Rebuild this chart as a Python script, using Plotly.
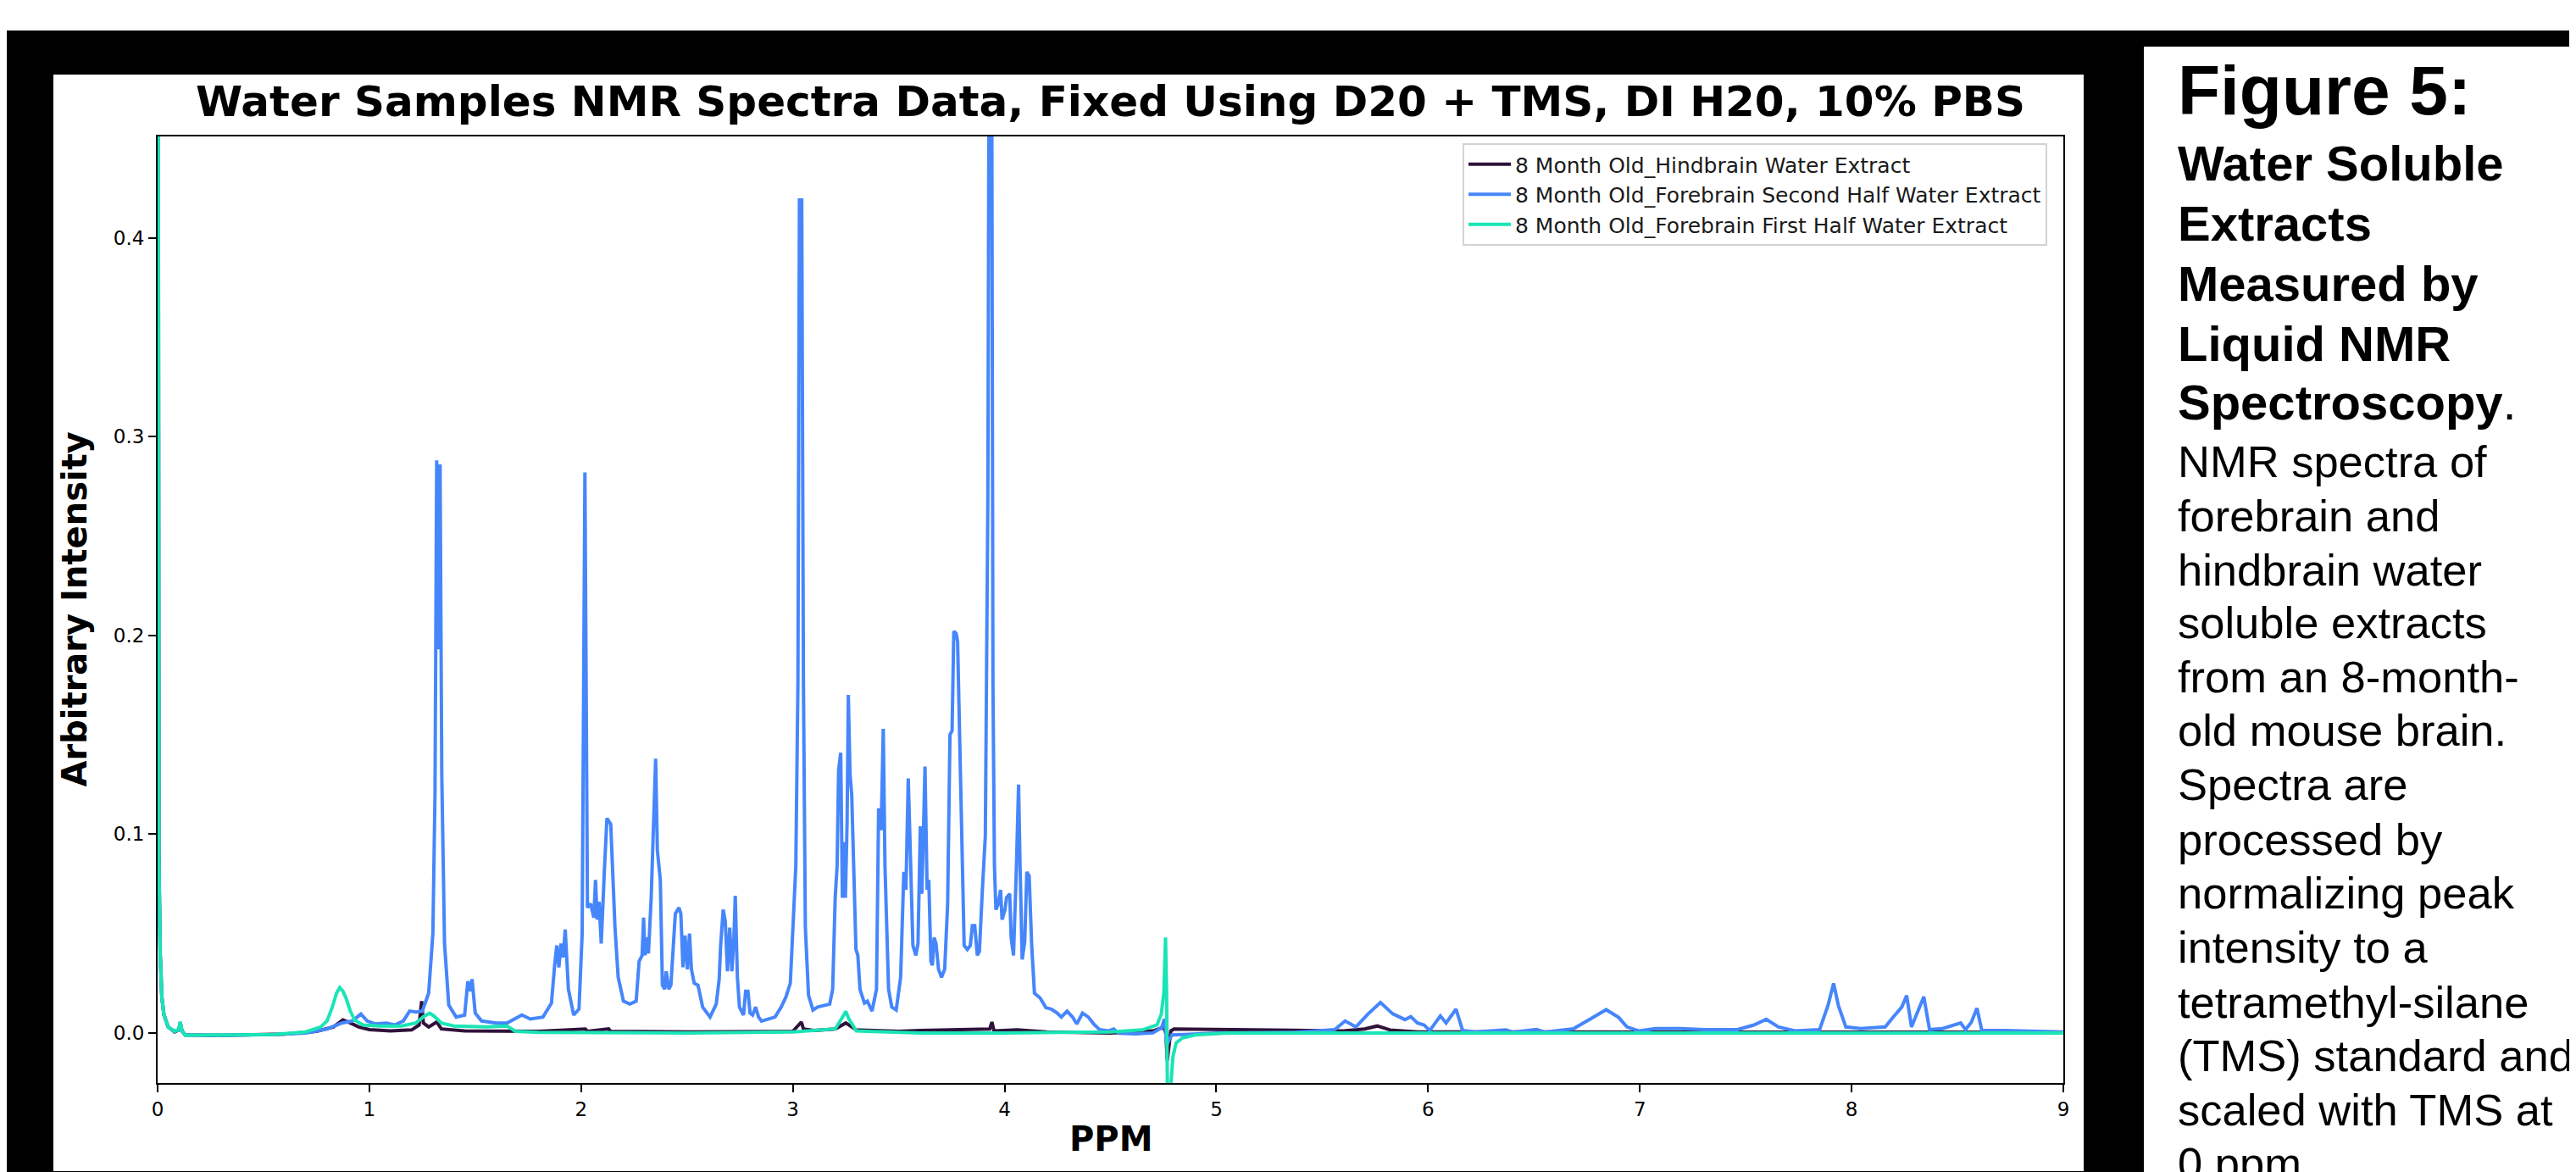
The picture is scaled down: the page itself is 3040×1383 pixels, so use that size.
import plotly.graph_objects as go

# ---------------- data ----------------
SERIES_NAMES = [
    "8 Month Old_Hindbrain Water Extract",
    "8 Month Old_Forebrain Second Half Water Extract",
    "8 Month Old_Forebrain First Half Water Extract",
]
SERIES_COLORS = ["#30123b", "#4686fb", "#1ae4b6"]

HB_PPM = [0.0, 0.003, 0.006, 0.012, 0.02, 0.03, 0.05, 0.08, 0.1, 0.107, 0.115, 0.13, 0.3, 0.6,
          0.75, 0.83, 0.875, 0.91, 0.95, 1.0, 1.1, 1.2, 1.235, 1.247, 1.255, 1.28, 1.318, 1.34,
          1.45, 1.8, 2.02, 2.03, 2.13, 2.14, 2.5, 3.0, 3.03, 3.04, 3.05, 3.1, 3.2, 3.25, 3.3,
          3.5, 3.6, 3.93, 3.94, 3.95, 4.06, 4.2, 4.5, 4.7, 4.75, 4.762, 4.768, 4.775, 4.785,
          4.8, 5.2, 5.6, 5.7, 5.76, 5.82, 5.95, 6.5, 9.0]
HB_INT = [1.0, 0.25, 0.09, 0.04, 0.018, 0.009, 0.003, 0.0005, 0.0015, 0.005, 0.001, -0.001, -0.0012, -0.0006,
          0.0008, 0.003, 0.0065, 0.005, 0.003, 0.0017, 0.001, 0.0015, 0.004, 0.016, 0.005, 0.003, 0.0055, 0.002,
          0.001, 0.0008, 0.002, 0.0008, 0.002, 0.0008, 0.0005, 0.0008, 0.004, 0.0055, 0.002, 0.0012, 0.002, 0.005, 0.0015,
          0.0008, 0.0012, 0.002, 0.0055, 0.001, 0.0015, 0.0005, 0.0, 0.001, 0.0028, 0.0, -0.014, -0.006, 0.001,
          0.002, 0.0015, 0.001, 0.002, 0.0035, 0.0015, 0.0005, 0.0005, 0.0003]

FS_PPM = [0.0, 0.003, 0.006, 0.012, 0.02, 0.03, 0.05, 0.08, 0.1, 0.107, 0.115, 0.13, 0.3, 0.55, 0.7,
          0.8, 0.87, 0.92, 0.96, 0.99, 1.03, 1.08, 1.12, 1.16, 1.19, 1.22, 1.25, 1.28, 1.3, 1.31,
          1.318, 1.326, 1.334, 1.342, 1.355, 1.375, 1.41, 1.45, 1.465, 1.475, 1.485, 1.5, 1.53,
          1.6, 1.65, 1.72, 1.76, 1.82, 1.86, 1.875, 1.885, 1.895, 1.905, 1.915, 1.925, 1.94,
          1.965, 1.99, 2.005, 2.018, 2.03, 2.045, 2.06, 2.068, 2.076, 2.085, 2.095, 2.11, 2.122,
          2.14, 2.16, 2.175, 2.2, 2.23, 2.26, 2.274, 2.288, 2.295, 2.302, 2.309, 2.318, 2.331,
          2.341, 2.352, 2.36, 2.374, 2.384, 2.395, 2.402, 2.414, 2.424, 2.435, 2.445, 2.462,
          2.471, 2.481, 2.491, 2.502, 2.512, 2.521, 2.534, 2.552, 2.574, 2.609, 2.638, 2.652,
          2.659, 2.671, 2.681, 2.691, 2.702, 2.712, 2.721, 2.728, 2.738, 2.748, 2.767, 2.777,
          2.788, 2.798, 2.81, 2.824, 2.838, 2.852, 2.888, 2.916, 2.945, 2.967, 2.988, 3.002,
          3.014, 3.024, 3.031, 3.042, 3.05, 3.059, 3.074, 3.095, 3.117, 3.174, 3.188, 3.2,
          3.209, 3.216, 3.226, 3.234, 3.242, 3.248, 3.256, 3.262, 3.27, 3.278, 3.288, 3.298,
          3.307, 3.317, 3.338, 3.352, 3.374, 3.395, 3.405, 3.417, 3.427, 3.435, 3.452, 3.467,
          3.488, 3.509, 3.524, 3.534, 3.545, 3.557, 3.567, 3.581, 3.591, 3.602, 3.609, 3.617,
          3.624, 3.634, 3.642, 3.652, 3.659, 3.667, 3.676, 3.688, 3.702, 3.717, 3.731, 3.742,
          3.752, 3.76, 3.771, 3.778, 3.788, 3.799, 3.809, 3.824, 3.838, 3.848, 3.859, 3.871,
          3.881, 3.895, 3.909, 3.921, 3.928, 3.938, 3.945, 3.952, 3.959, 3.97, 3.981, 3.988,
          4.002, 4.009, 4.024, 4.031, 4.042, 4.056, 4.066, 4.073, 4.083, 4.095, 4.105, 4.116,
          4.128, 4.141, 4.168, 4.195, 4.221, 4.248, 4.268, 4.295, 4.321, 4.341, 4.368, 4.395,
          4.421, 4.448, 4.49, 4.515, 4.541, 4.62, 4.7, 4.741, 4.755, 4.765, 4.775, 4.79, 4.85,
          5.0, 5.37, 5.56, 5.608, 5.659, 5.717, 5.775, 5.833, 5.891, 5.918, 5.95, 5.981, 6.008,
          6.058, 6.085, 6.132, 6.163, 6.221, 6.368, 6.4, 6.512, 6.55, 6.686, 6.764, 6.841, 6.9,
          6.939, 6.997, 7.074, 7.19, 7.306, 7.461, 7.539, 7.597, 7.655, 7.733, 7.849, 7.888,
          7.915, 7.938, 7.973, 8.043, 8.159, 8.198, 8.237, 8.26, 8.283, 8.341, 8.368, 8.43,
          8.515, 8.538, 8.565, 8.592, 8.615, 8.72, 9.0]
FS_INT = [1.0, 0.25, 0.09, 0.04, 0.018, 0.009, 0.003, 0.0008, 0.0015, 0.0055, 0.001, -0.001, -0.0012, -0.0008, 0.0,
          0.002, 0.005, 0.006, 0.0095, 0.006, 0.0045, 0.005, 0.004, 0.006, 0.011, 0.0105, 0.011, 0.02, 0.05, 0.12,
          0.288, 0.193, 0.286, 0.13, 0.045, 0.014, 0.008, 0.009, 0.026, 0.021, 0.027, 0.01, 0.006,
          0.005, 0.005, 0.009, 0.007, 0.008, 0.015, 0.034, 0.044, 0.033, 0.045, 0.038, 0.052, 0.022,
          0.009, 0.012, 0.05, 0.282, 0.063, 0.065, 0.058, 0.077, 0.057, 0.066, 0.045, 0.082, 0.108,
          0.105, 0.053, 0.028, 0.016, 0.0145, 0.016, 0.036, 0.039, 0.058, 0.039, 0.048, 0.040, 0.068,
          0.098, 0.138, 0.092, 0.077, 0.024, 0.022, 0.031, 0.022, 0.024, 0.042, 0.060, 0.063,
          0.060, 0.033, 0.049, 0.032, 0.050, 0.032, 0.025, 0.024, 0.013, 0.008, 0.0145, 0.027,
          0.044, 0.062, 0.056, 0.031, 0.053, 0.031, 0.046, 0.069, 0.028, 0.013, 0.009, 0.021,
          0.021, 0.010, 0.009, 0.013, 0.008, 0.006, 0.007, 0.008, 0.013, 0.018, 0.025, 0.056,
          0.084, 0.176, 0.419, 0.419, 0.176, 0.053, 0.019, 0.0115, 0.013, 0.0145, 0.022, 0.068,
          0.084, 0.132, 0.141, 0.068, 0.096, 0.068, 0.105, 0.17, 0.13, 0.12, 0.084, 0.042,
          0.039, 0.022, 0.015, 0.016, 0.011, 0.022, 0.113, 0.102, 0.153, 0.084, 0.022, 0.013,
          0.0115, 0.028, 0.081, 0.072, 0.128, 0.084, 0.044, 0.039, 0.045, 0.104, 0.070, 0.102,
          0.134, 0.072, 0.077, 0.036, 0.034, 0.048, 0.045, 0.032, 0.028, 0.032, 0.065, 0.150,
          0.152, 0.202, 0.201, 0.197, 0.145, 0.084, 0.044, 0.042, 0.044, 0.054, 0.054, 0.039,
          0.041, 0.072, 0.099, 0.27, 0.55, 0.55, 0.176, 0.084, 0.062, 0.065, 0.072, 0.057,
          0.062, 0.068, 0.070, 0.048, 0.039, 0.084, 0.125, 0.084, 0.037, 0.046, 0.081, 0.079,
          0.044, 0.020, 0.0175, 0.0127, 0.012, 0.010, 0.008, 0.011, 0.008, 0.0045, 0.010, 0.008,
          0.0045, 0.0017, 0.001, 0.002, -0.0002, -0.0005, 0.0, 0.0026, 0.007, -0.006, -0.004, -0.001, -0.0008,
          0.0, 0.0003, 0.0017, 0.006, 0.003, 0.0096, 0.0153, 0.0096, 0.0067, 0.0082, 0.005, 0.004, 0.0012,
          0.0086, 0.0050, 0.012, 0.0012, 0.0005, 0.0015, 0.0004, 0.0018, 0.0004, 0.0021, 0.0069, 0.0117, 0.0078,
          0.003, 0.001, 0.0022, 0.0022, 0.0017, 0.0017, 0.004, 0.0069, 0.003, 0.001, 0.0017, 0.0136,
          0.0249, 0.0136, 0.003, 0.0022, 0.003, 0.0082, 0.013, 0.0188, 0.003, 0.0182, 0.0017, 0.0022,
          0.005, 0.0017, 0.0053, 0.0124, 0.0012, 0.0012, 0.0005]

FF_PPM = [0.0, 0.003, 0.006, 0.012, 0.02, 0.03, 0.05, 0.08, 0.1, 0.107, 0.115, 0.13, 0.3, 0.55,
          0.7, 0.77, 0.8, 0.825, 0.845, 0.86, 0.875, 0.89, 0.91, 0.93, 0.97, 1.05, 1.15, 1.22,
          1.26, 1.285, 1.305, 1.34, 1.4, 1.55, 1.65, 1.69, 1.8, 2.5, 3.0, 3.2, 3.235, 3.25,
          3.265, 3.3, 3.6, 4.0, 4.5, 4.65, 4.72, 4.74, 4.752, 4.76, 4.765, 4.769, 4.778, 4.785,
          4.795, 4.81, 4.84, 4.9, 5.05, 9.0]
FF_INT = [1.0, 0.25, 0.09, 0.04, 0.018, 0.009, 0.003, 0.0008, 0.0018, 0.0055, 0.001, -0.0012, -0.0012, -0.0008,
          0.0005, 0.003, 0.006, 0.013, 0.02, 0.0228, 0.021, 0.0175, 0.011, 0.0065, 0.004, 0.0035, 0.0035, 0.005,
          0.0085, 0.0099, 0.0085, 0.005, 0.0035, 0.003, 0.0035, 0.0008, 0.0003, 0.0, 0.0005, 0.002, 0.008, 0.0108,
          0.007, 0.001, 0.0, 0.0, 0.0005, 0.0015, 0.004, 0.0095, 0.02, 0.048, 0.02, -0.03, -0.05, -0.026,
          -0.012, -0.005, -0.0025, -0.001, 0.0, 0.0]

X_TICKS = [0, 1, 2, 3, 4, 5, 6, 7, 8, 9]
Y_TICKS = [0.0, 0.1, 0.2, 0.3, 0.4]
Y_TICK_TEXT = ["0.0", "0.1", "0.2", "0.3", "0.4"]

TITLE = "Water Samples NMR Spectra Data, Fixed Using D20 + TMS, DI H20, 10% PBS"
X_LABEL = "PPM"
Y_LABEL = "Arbitrary Intensity"

CAPTION_HEAD = "Figure 5:"
CAPTION_BOLD = ["Water Soluble", "Extracts", "Measured by", "Liquid NMR", "Spectroscopy"]
CAPTION_BODY = ["NMR spectra of", "forebrain and", "hindbrain water", "soluble extracts",
                "from an 8-month-", "old mouse brain.", "Spectra are", "processed by",
                "normalizing peak", "intensity to a", "tetramethyl-silane",
                "(TMS) standard and", "scaled with TMS at", "0 ppm."]

# ---------------- layout helpers (pixel -> paper) ----------------
W, H = 3040, 1383


def px(x):
    return x / W


def py(y):
    return 1 - y / H


PLOT_L, PLOT_R, PLOT_T, PLOT_B = 178, 2427, 153, 1270

fig = go.Figure()
for i, (xs, ys) in enumerate([(HB_PPM, HB_INT), (FS_PPM, FS_INT), (FF_PPM, FF_INT)]):
    fig.add_trace(go.Scatter(
        x=xs, y=ys, mode="lines", name=SERIES_NAMES[i],
        line=dict(color=SERIES_COLORS[i], width=4),
        legendgroup=f"g{i}",
    ))

shapes = [
    dict(type="rect", xref="paper", yref="paper", x0=0, x1=1, y0=0, y1=py(28),
         fillcolor="black", line=dict(width=0), layer="below"),
    dict(type="rect", xref="paper", yref="paper", x0=px(55), x1=px(2451), y0=py(1374), y1=py(80),
         fillcolor="white", line=dict(width=0), layer="below"),
    dict(type="rect", xref="paper", yref="paper", x0=px(2522), x1=1, y0=0, y1=py(47),
         fillcolor="white", line=dict(width=0), layer="below"),
]

annotations = [
    dict(text=TITLE, x=px((PLOT_L + PLOT_R) / 2), y=py(112), xref="paper", yref="paper",
         xanchor="center", yanchor="middle", showarrow=False,
         font=dict(family="DejaVu Sans", size=50, color="black", weight="bold")),
    dict(text=Y_LABEL, x=px(79), y=py((PLOT_T + PLOT_B) / 2), xref="paper", yref="paper",
         xanchor="center", yanchor="middle", showarrow=False, textangle=-90,
         font=dict(family="DejaVu Sans", size=40, color="black", weight="bold")),
    dict(text=X_LABEL, x=px((PLOT_L + PLOT_R) / 2), y=py(1336), xref="paper", yref="paper",
         xanchor="center", yanchor="middle", showarrow=False,
         font=dict(family="DejaVu Sans", size=40, color="black", weight="bold")),
]

CAP_X = 2560
annotations.append(dict(text=CAPTION_HEAD, x=px(CAP_X), y=py(127 - 0.35 * 82), xref="paper", yref="paper",
                        xanchor="left", yanchor="middle", showarrow=False,
                        font=dict(family="Liberation Sans", size=82, color="black", weight="bold")))
bold_baselines = [205, 276, 347, 418, 487]
for i, (t, b) in enumerate(zip(CAPTION_BOLD, bold_baselines)):
    last = i == len(CAPTION_BOLD) - 1
    txt = f"<b>{t}</b>." if last else t
    annotations.append(dict(text=txt, x=px(CAP_X), y=py(b - 0.35 * 58), xref="paper", yref="paper",
                            xanchor="left", yanchor="middle", showarrow=False,
                            font=dict(family="Liberation Sans", size=58, color="black",
                                      weight="normal" if last else "bold")))
body_baselines = [555, 619, 683, 745, 809, 872, 936, 1001, 1064, 1128, 1193, 1256, 1320, 1383]
for t, b in zip(CAPTION_BODY, body_baselines):
    annotations.append(dict(text=t, x=px(CAP_X), y=py(b - 0.35 * 52.5), xref="paper", yref="paper",
                            xanchor="left", yanchor="middle", showarrow=False,
                            font=dict(family="Liberation Sans", size=52.5, color="black")))

fig.update_layout(
    template="none",
    width=W, height=H, autosize=False,
    margin=dict(l=0, r=0, t=0, b=0, pad=0),
    paper_bgcolor="white",
    plot_bgcolor="rgba(0,0,0,0)",
    shapes=shapes,
    annotations=annotations,
    showlegend=True,
    legend=dict(
        x=px(2408), y=py(161), xanchor="right", yanchor="top",
        bgcolor="white", bordercolor="#d3d3d3", borderwidth=2,
        font=dict(family="DejaVu Sans", size=25, color="#1a1a1a"),
        tracegroupgap=7, traceorder="normal", itemwidth=50,
    ),
    xaxis=dict(
        domain=[px(PLOT_L), px(PLOT_R)], range=[0, 9],
        tickmode="array", tickvals=X_TICKS, ticktext=[str(v) for v in X_TICKS],
        ticks="outside", ticklen=9, tickwidth=2, tickcolor="black",
        showline=True, linewidth=2, linecolor="black", mirror=True,
        showgrid=False, zeroline=False,
        tickfont=dict(family="DejaVu Sans", size=23, color="black"),
    ),
    yaxis=dict(
        domain=[py(PLOT_B), py(PLOT_T)], range=[-0.0252, 0.451],
        tickmode="array", tickvals=Y_TICKS, ticktext=Y_TICK_TEXT,
        ticks="outside", ticklen=9, tickwidth=2, tickcolor="black",
        showline=True, linewidth=2, linecolor="black", mirror=True,
        showgrid=False, zeroline=False,
        tickfont=dict(family="DejaVu Sans", size=23, color="black"),
    ),
)

fig.write_html("out.html")
